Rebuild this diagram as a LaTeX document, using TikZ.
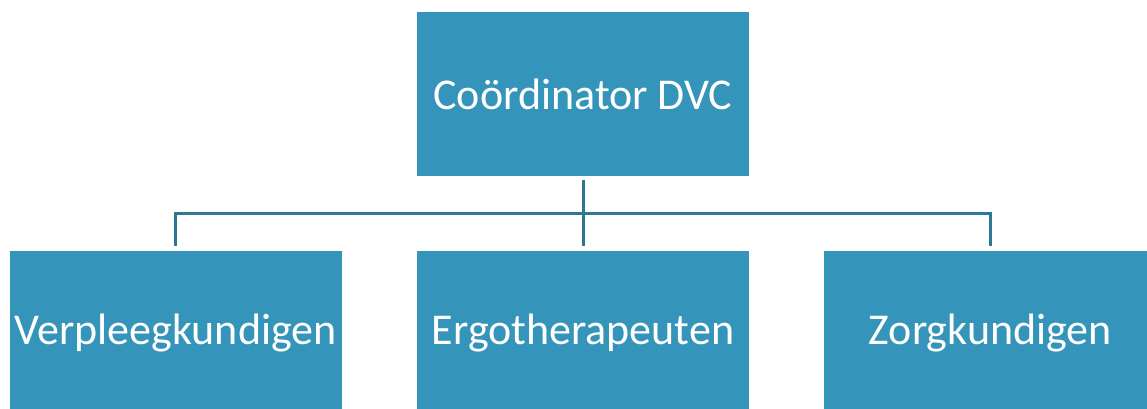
\documentclass[tikz,border=0pt]{standalone}
\usepackage{fontspec}
\setmainfont{Carlito}
\usetikzlibrary{positioning}

\definecolor{boxblue}{HTML}{3594BA}
\definecolor{linkblue}{HTML}{2E7895}

\tikzset{
  unit/.style={fill=boxblue, text=white, minimum width=332pt, minimum height=164pt,
    inner sep=0pt, font=\fontsize{44}{50}\selectfont},
  link/.style={draw=linkblue, line width=3pt}
}

\begin{document}
\begin{tikzpicture}[x=1pt,y=1pt]

        \useasboundingbox (0,0) rectangle (1147,-409);

        % leiding bovenaan
        \node[unit] (coord) at (583,-94) {Coördinator DVC};

        % afdelingen eronder
        \node[unit, below=75pt of coord] (ergo) {Ergotherapeuten};
        \node[unit, left=75pt of ergo] (verpl) {Verpleegkundigen};
        \node[unit, right=75pt of ergo] (zorg) {Zorgkundigen};

        % verbindingen
        \coordinate (bus) at ([yshift=-37pt]coord.south);
        \draw[link] ([yshift=-4pt]coord.south) -- ([yshift=5pt]ergo.north);
        \draw[link] ([yshift=5pt]verpl.north) |- (bus) -| ([yshift=5pt]zorg.north);

    \end{tikzpicture}
\end{document}
